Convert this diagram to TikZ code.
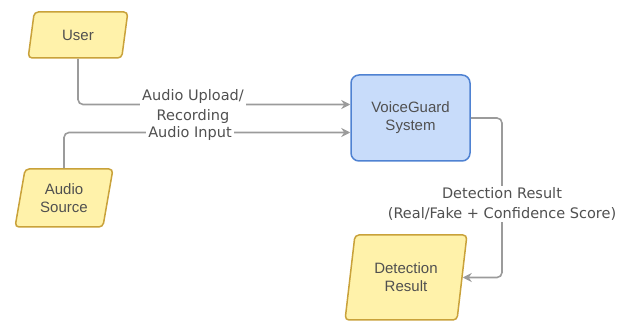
\documentclass[tikz,border=0pt]{standalone}
\usepackage{fontspec}
\setmainfont{Liberation Sans}
\newfontfamily\labelfont{DejaVu Sans}
\usetikzlibrary{shapes.geometric,arrows.meta}
\definecolor{ioFill}{HTML}{FFF2AA}
\definecolor{ioLine}{HTML}{C9A23A}
\definecolor{sysFill}{HTML}{C8DCFA}
\definecolor{sysLine}{HTML}{4F82D2}
\definecolor{wire}{HTML}{9B9B9B}
\definecolor{ink}{HTML}{505050}
\tikzset{
  iobox/.style={trapezium, trapezium left angle=78, trapezium right angle=102,
    trapezium stretches=true, draw=ioLine, fill=ioFill, line width=1.5pt,
    rounded corners=4pt, align=center, text=ink, font=\fontsize{15}{18}\selectfont,
    inner sep=0pt},
  sysbox/.style={rectangle, draw=sysLine, fill=sysFill, line width=1.5pt,
    rounded corners=8pt, align=center, text=ink, font=\fontsize{15}{18}\selectfont,
    minimum width=119pt, minimum height=86pt},
  conn/.style={draw=wire, line width=1.6pt, rounded corners=5pt,
    -{Stealth[length=9pt,width=9pt]}},
  lbl/.style={fill=white, text=ink, align=center, inner sep=2pt,
    font=\labelfont\fontsize{14.5}{20}\selectfont}
}
\begin{document}
\begin{tikzpicture}[x=1pt,y=-1pt]
  \useasboundingbox (0,0) rectangle (627,323);
  % nodes
  \node[iobox, minimum width=100pt, minimum height=46pt] (user) at (78,35) {User};
  \node[iobox, minimum width=98pt, minimum height=58pt] (src) at (64,198) {Audio\\Source};
  \node[sysbox] (vg) at (410.5,118) {VoiceGuard\\System};
  \node[iobox, minimum width=122pt, minimum height=85pt] (det) at (406,277.5) {Detection\\Result};
  % connectors
  \coordinate (turn) at (502,0);
  \draw[conn] (user.south) |- ([yshift=13.5pt]vg.west);
  \draw[conn] (src.north) |- ([yshift=-14.5pt]vg.west);
  \draw[conn] (vg.east) -| (turn |- det.east) -- (det.east);
  % connector labels
  \node[lbl] (lup) at (193,107) {Audio Upload/\\Recording};
  \node[lbl, inner ysep=1pt] (lin) at (190,134) {Audio Input};
  \node[lbl] (lres) at (502,204) {Detection Result\\(Real/Fake + Confidence Score)};
\end{tikzpicture}
\end{document}
